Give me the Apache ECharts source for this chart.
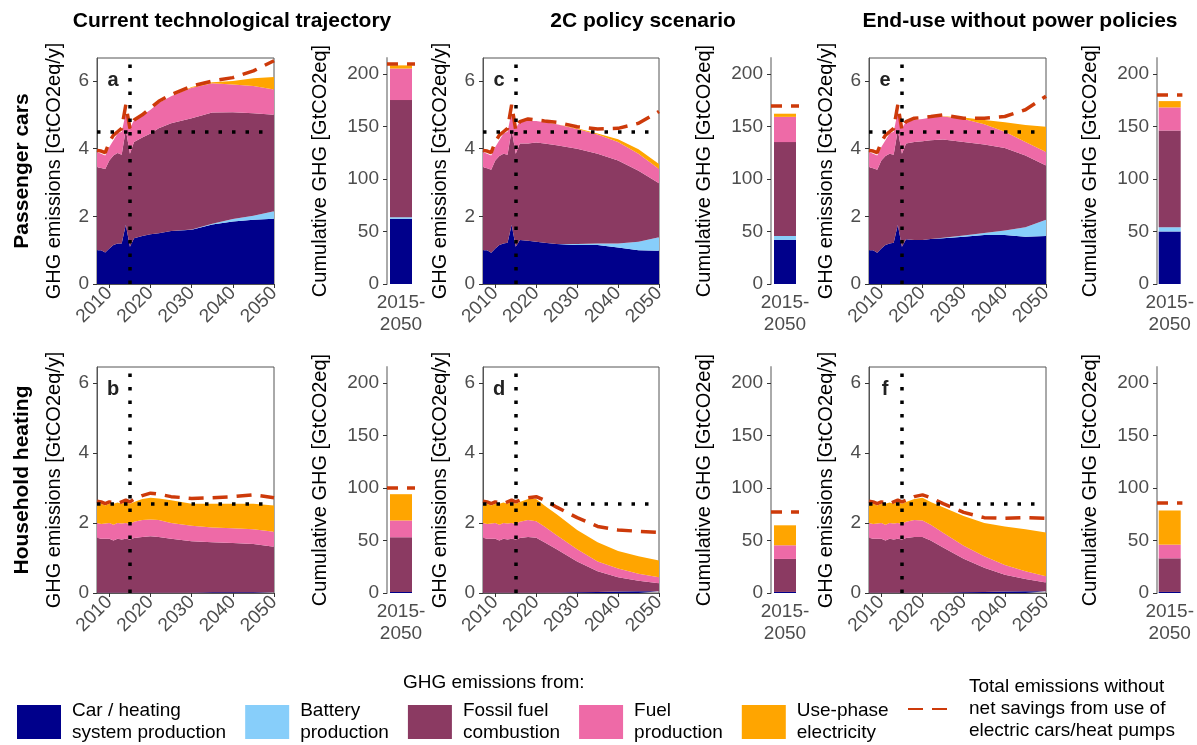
<!DOCTYPE html>
<html><head><meta charset="utf-8">
<script src="https://cdn.jsdelivr.net/npm/echarts@6/dist/echarts.min.js"></script>
<style>html,body{margin:0;padding:0;background:#fff}#c{width:1197px;height:745px}</style>
</head><body><div id="c"></div>
<script>
// ---------- DATA ----------
const years = [2007,2008,2009,2010,2011,2012,2013,2014,2015,2016,2018,2020,2022,2025,2030,2035,2040,2045,2050];
const firstYear = 2007, lastYear = 2050;
const xTicks = [2010,2020,2030,2040,2050];
const yTicks = [0,2,4,6];
const cumTicks = [0,50,100,150,200];
const barCategory = ['2015-\n2050'];
const baseYear = 2015;
const refLevel = [4.5, 2.55];       // dotted reference level per row
const refSpan = [2007, 2048];

const columnTitles = ['Current technological trajectory','2C policy scenario','End-use without power policies'];
const rowTitles = ['Passenger cars','Household heating'];
const panelLetters = ['a','b','c','d','e','f'];
const layerNames = ['Car / heating\nsystem production','Battery\nproduction','Fossil fuel\ncombustion','Fuel\nproduction','Use-phase\nelectricity'];
const totalName = 'Total emissions without\nnet savings from use of\nelectric cars/heat pumps';
const legendTitle = 'GHG emissions from:';

// Panel a: passenger cars, current trajectory
const carA    = [1.00,1.00,0.93,1.05,1.15,1.20,1.20,1.75,1.10,1.35,1.42,1.47,1.50,1.57,1.60,1.76,1.85,1.90,1.93];
const batA    = [0,0,0,0,0,0,0,0,0,0,0,0,0,0,0.01,0.02,0.07,0.12,0.22];
const fossilA = [2.45,2.43,2.47,2.60,2.65,2.67,2.62,2.81,2.75,2.85,2.91,2.98,3.10,3.18,3.29,3.29,3.16,3.03,2.85];
const fuelA   = [0.45,0.42,0.40,0.40,0.45,0.58,0.68,0.49,0.75,0.65,0.65,0.70,0.75,0.80,0.90,0.86,0.82,0.80,0.75];
const elecA   = [0,0,0,0,0,0,0,0,0,0,0,0,0,0,0.02,0.03,0.10,0.23,0.37];
const totalA  = [3.95,3.93,3.88,4.20,4.40,4.50,4.60,5.30,4.60,4.85,5.00,5.20,5.40,5.60,5.85,6.00,6.10,6.30,6.60];
// Panel b: heating, current trajectory
const carB    = [0.01,0.01,0.01,0.01,0.01,0.01,0.01,0.01,0.01,0.01,0.01,0.01,0.01,0.01,0.01,0.02,0.02,0.02,0.02];
const batB    = [0,0,0,0,0,0,0,0,0,0,0,0,0,0,0,0,0,0,0];
const fossilB = [1.57,1.54,1.54,1.54,1.49,1.54,1.52,1.54,1.52,1.56,1.59,1.61,1.59,1.54,1.47,1.43,1.41,1.38,1.30];
const fuelB   = [0.42,0.42,0.43,0.45,0.45,0.45,0.45,0.45,0.44,0.46,0.48,0.48,0.48,0.45,0.44,0.42,0.42,0.42,0.43];
const elecB   = [0.55,0.58,0.52,0.55,0.60,0.58,0.57,0.60,0.58,0.57,0.60,0.62,0.62,0.65,0.63,0.68,0.70,0.73,0.75];
const totalB  = [2.62,2.60,2.55,2.60,2.58,2.55,2.60,2.65,2.60,2.68,2.78,2.85,2.82,2.75,2.70,2.72,2.75,2.80,2.72];
// Panel c: passenger cars, 2C policy
const carC    = [1.00,1.00,0.92,1.05,1.15,1.20,1.22,1.75,1.10,1.30,1.28,1.25,1.22,1.18,1.15,1.15,1.08,1.00,0.98];
const batC    = [0,0,0,0,0,0,0,0,0,0,0,0,0,0,0.03,0.05,0.12,0.25,0.40];
const fossilC = [2.45,2.42,2.46,2.60,2.63,2.65,2.60,2.80,2.75,2.85,2.87,2.93,2.93,2.92,2.82,2.65,2.45,2.10,1.60];
const fuelC   = [0.45,0.43,0.42,0.40,0.47,0.60,0.68,0.55,0.75,0.65,0.67,0.64,0.63,0.62,0.58,0.57,0.55,0.50,0.42];
const elecC   = [0,0,0,0,0,0,0,0,0,0,0,0,0,0,0.02,0.03,0.08,0.13,0.15];
const totalC  = [3.95,3.93,3.88,4.20,4.40,4.50,4.60,5.30,4.55,4.80,4.88,4.85,4.82,4.78,4.65,4.58,4.60,4.75,5.10];
// Panel d: heating, 2C policy
const carD    = [0.01,0.01,0.01,0.01,0.01,0.01,0.01,0.01,0.01,0.01,0.01,0.01,0.01,0.01,0.02,0.03,0.04,0.05,0.05];
const batD    = [0,0,0,0,0,0,0,0,0,0,0,0,0,0,0,0,0,0,0];
const fossilD = [1.57,1.54,1.54,1.54,1.49,1.54,1.52,1.54,1.52,1.56,1.59,1.57,1.44,1.24,0.88,0.59,0.41,0.30,0.23];
const fuelD   = [0.42,0.42,0.43,0.45,0.45,0.45,0.45,0.45,0.44,0.46,0.48,0.47,0.45,0.40,0.35,0.28,0.25,0.20,0.17];
const elecD   = [0.55,0.58,0.52,0.55,0.60,0.58,0.57,0.60,0.58,0.57,0.60,0.63,0.60,0.60,0.55,0.55,0.50,0.50,0.48];
const totalD  = [2.62,2.60,2.55,2.60,2.58,2.55,2.60,2.65,2.60,2.65,2.72,2.75,2.65,2.45,2.15,1.90,1.80,1.76,1.73];
// Panel e: passenger cars, end-use without power policies
const carE    = [1.00,1.00,0.92,1.05,1.15,1.20,1.22,1.75,1.10,1.32,1.30,1.30,1.33,1.35,1.40,1.45,1.45,1.40,1.42];
const batE    = [0,0,0,0,0,0,0,0,0,0,0,0,0,0.02,0.03,0.06,0.13,0.28,0.48];
const fossilE = [2.45,2.42,2.46,2.60,2.63,2.65,2.60,2.80,2.75,2.83,2.90,2.92,2.92,2.90,2.77,2.61,2.44,2.12,1.60];
const fuelE   = [0.45,0.43,0.42,0.40,0.47,0.60,0.68,0.55,0.75,0.65,0.65,0.66,0.67,0.68,0.68,0.60,0.48,0.40,0.40];
const elecE   = [0,0,0,0,0,0,0,0,0,0,0,0,0,0.01,0.04,0.13,0.28,0.50,0.75];
const totalE  = [3.95,3.93,3.88,4.20,4.40,4.50,4.60,5.30,4.55,4.80,4.90,4.92,4.95,5.00,4.90,4.90,4.95,5.15,5.55];
// Panel f: heating, end-use without power policies
const carF    = [0.01,0.01,0.01,0.01,0.01,0.01,0.01,0.01,0.01,0.01,0.01,0.01,0.01,0.01,0.02,0.03,0.04,0.05,0.05];
const batF    = [0,0,0,0,0,0,0,0,0,0,0,0,0,0,0,0,0,0,0];
const fossilF = [1.57,1.54,1.54,1.54,1.49,1.54,1.52,1.54,1.52,1.56,1.59,1.59,1.49,1.29,0.96,0.69,0.48,0.35,0.25];
const fuelF   = [0.42,0.42,0.43,0.45,0.45,0.45,0.45,0.45,0.44,0.46,0.48,0.47,0.45,0.42,0.37,0.33,0.28,0.22,0.18];
const elecF   = [0.55,0.58,0.52,0.55,0.60,0.58,0.57,0.60,0.58,0.57,0.60,0.65,0.65,0.73,0.85,0.95,1.10,1.20,1.25];
const totalF  = [2.62,2.60,2.55,2.60,2.58,2.55,2.60,2.65,2.60,2.65,2.75,2.80,2.72,2.55,2.30,2.15,2.13,2.15,2.13];

// Cumulative 2015-2050, panels a..f
const cumCar    = [62, 1, 42, 1, 50, 1];
const cumBat    = [1.5, 0, 3.7, 0, 4, 0];
const cumFossil = [111.5, 52, 89.3, 31.4, 92, 32];
const cumFuel   = [30, 16, 24, 13, 22, 13];
const cumElec   = [3, 25, 3, 19, 6, 32.5];
const cumTotal  = [210, 100, 170, 77, 180, 86];

// ---------- STYLE / LAYOUT ----------
const FONT = '"Liberation Sans", Arial, Helvetica, sans-serif';
const colors = ['#00008b','#87cefa','#8b3a62','#ee6aa7','#ffa500'];
const dashColor = '#cd3a0a';
const tickColor = '#4d4d4d';
const areaLeft = [97, 483, 869], areaWidth = [177, 176, 177];
const barLeft = [387, 771, 1157], barW = 28;
const rowTop = [58, 367], panelH = 226;
const yMax = [6.68, 6.45], cumMax = 215;
const titleX = [232, 643, 1020];

// year categories of the time axis (axis scale only)
const axisYears = [];
for (let y = firstYear; y <= lastYear; y++) axisYears.push(String(y));
const isTickYear = (idx, val) => xTicks.indexOf(Number(val)) >= 0;

const panels = [
  {col:0,row:0,layers:[carA,batA,fossilA,fuelA,elecA],total:totalA},
  {col:0,row:1,layers:[carB,batB,fossilB,fuelB,elecB],total:totalB},
  {col:1,row:0,layers:[carC,batC,fossilC,fuelC,elecC],total:totalC},
  {col:1,row:1,layers:[carD,batD,fossilD,fuelD,elecD],total:totalD},
  {col:2,row:0,layers:[carE,batE,fossilE,fuelE,elecE],total:totalE},
  {col:2,row:1,layers:[carF,batF,fossilF,fuelF,elecF],total:totalF}
];
const cumLayers = [cumCar, cumBat, cumFossil, cumFuel, cumElec];

const grids=[], xAxes=[], yAxes=[], series=[], graphics=[];
panels.forEach((p, i) => {
  const top = rowTop[p.row];
  const ga = grids.length;
  grids.push({left:areaLeft[p.col], top, width:areaWidth[p.col], height:panelH, show:true,
    borderColor:'#555', borderWidth:1, backgroundColor:'rgba(0,0,0,0)', containLabel:false});
  const gb = grids.length;
  grids.push({left:barLeft[p.col], top, width:barW, height:panelH, show:false, containLabel:false});

  xAxes.push({gridIndex:ga, type:'category', data:axisYears, boundaryGap:false,
    axisLine:{show:true, lineStyle:{color:'#555', width:1}},
    axisTick:{show:true, interval:isTickYear, length:4, lineStyle:{color:'#333'}},
    axisLabel:{interval:isTickYear, rotate:45, margin:6, fontSize:19, color:tickColor, fontFamily:FONT},
    splitLine:{show:false}});
  yAxes.push({gridIndex:ga, type:'value', min:0, max:yMax[p.row],
    axisLine:{show:true, lineStyle:{color:'#555', width:1}},
    axisTick:{show:true, customValues:yTicks, length:4, lineStyle:{color:'#333'}},
    axisLabel:{customValues:yTicks, margin:8, fontSize:19, color:tickColor, fontFamily:FONT},
    splitLine:{show:false},
    name:'GHG emissions [GtCO2eq/y]', nameLocation:'middle', nameGap:33,
    nameTextStyle:{fontSize:20, color:'#000', fontFamily:FONT}});

  xAxes.push({gridIndex:gb, type:'category', data:barCategory, boundaryGap:true,
    axisLine:{show:false}, axisTick:{show:false},
    axisLabel:{fontSize:19, color:tickColor, lineHeight:22, margin:8, fontFamily:FONT}});
  yAxes.push({gridIndex:gb, type:'value', min:0, max:cumMax,
    axisLine:{show:true, lineStyle:{color:'#aaa', width:2}},
    axisTick:{show:true, customValues:cumTicks, length:4, lineStyle:{color:'#333'}},
    axisLabel:{customValues:cumTicks, margin:8, fontSize:19, color:tickColor, fontFamily:FONT},
    splitLine:{show:false},
    name:'Cumulative GHG [GtCO2eq]', nameLocation:'middle', nameGap:57,
    nameTextStyle:{fontSize:20, color:'#000', fontFamily:FONT}});

  p.layers.forEach((vals, k) => {
    series.push({type:'line', name:layerNames[k], xAxisIndex:ga, yAxisIndex:ga, stack:'area'+i,
      data:years.map((y,j)=>[String(y), vals[j]]), symbol:'none', showSymbol:false, smooth:false,
      color:colors[k], itemStyle:{color:colors[k]}, lineStyle:{width:0, color:colors[k]},
      areaStyle:{color:colors[k], opacity:1}, silent:true, z:2});
  });
  series.push({type:'line', name:totalName, xAxisIndex:ga, yAxisIndex:ga,
    data:years.map((y,j)=>[String(y), p.total[j]]), symbol:'none', showSymbol:false,
    color:dashColor, itemStyle:{color:dashColor},
    lineStyle:{color:dashColor, width:3.5, type:[15,9]}, silent:true, z:4,
    markLine:{silent:true, symbol:'none', label:{show:false}, animation:false,
      lineStyle:{color:'#000', width:3.5, type:[3.5,10]},
      emphasis:{disabled:true},
      data:[{xAxis:String(baseYear)},
            [{coord:[String(refSpan[0]), refLevel[p.row]]},{coord:[String(refSpan[1]), refLevel[p.row]]}]]}});

  cumLayers.forEach((vals, k) => {
    const s = {type:'bar', name:layerNames[k], xAxisIndex:gb, yAxisIndex:gb, stack:'bar'+i,
      data:[vals[i]], barWidth:22, color:colors[k], itemStyle:{color:colors[k]}, silent:true};
    if (k === cumLayers.length-1) {
      s.markLine = {silent:true, symbol:'none', label:{show:false}, animation:false,
        lineStyle:{color:dashColor, width:3.5, type:[11,9]}, emphasis:{disabled:true},
        data:[{yAxis:cumTotal[i]}]};
    }
    series.push(s);
  });

  graphics.push({type:'text', x:areaLeft[p.col]+16, y:top+22, silent:true,
    style:{text:panelLetters[i], x:0, y:0, align:'center', verticalAlign:'middle',
      textAlign:'center', textVerticalAlign:'middle', font:'bold 20px '+FONT, fill:'#222'}});
});

columnTitles.forEach((t, c) => graphics.push({type:'text', x:titleX[c], y:21, silent:true,
  style:{text:t, x:0, y:0, align:'center', verticalAlign:'middle', textAlign:'center', textVerticalAlign:'middle',
    font:'bold 21px '+FONT, fill:'#000'}}));
rowTitles.forEach((t, r) => graphics.push({type:'text', x:22, y:rowTop[r]+panelH/2, rotation:Math.PI/2, silent:true,
  style:{text:t, x:0, y:0, align:'center', verticalAlign:'middle', textAlign:'center', textVerticalAlign:'middle',
    font:'bold 21px '+FONT, fill:'#000'}}));
graphics.push({type:'text', x:403, y:683, silent:true,
  style:{text:legendTitle, x:0, y:0, align:'left', verticalAlign:'middle', textAlign:'left', textVerticalAlign:'middle',
    font:'19px '+FONT, fill:'#000'}});

const legendText = {fontSize:19, lineHeight:22, color:'#000', fontFamily:FONT, padding:[0,0,0,6]};
const legendText2 = {fontSize:19, lineHeight:22, color:'#000', fontFamily:FONT, padding:[0,0,0,12]};
const option = {
  animation:false,
  textStyle:{fontFamily:FONT},
  grid:grids, xAxis:xAxes, yAxis:yAxes, series,
  graphic:{elements:graphics},
  legend:[
    {left:17, top:700, orient:'horizontal', padding:0, itemWidth:44, itemHeight:34, itemGap:19,
      selectedMode:false, itemStyle:{borderWidth:0}, textStyle:legendText,
      data:layerNames.map(n=>({name:n, icon:'rect'}))},
    {left:907, top:676, orient:'horizontal', padding:0, itemWidth:44, itemHeight:34, itemGap:20,
      selectedMode:false, textStyle:legendText2,
      data:[{name:totalName, itemStyle:{opacity:0}}]}
  ]
};
const chart = echarts.init(document.getElementById('c'), null, {renderer:'canvas'});
chart.setOption(option);
</script></body></html>
